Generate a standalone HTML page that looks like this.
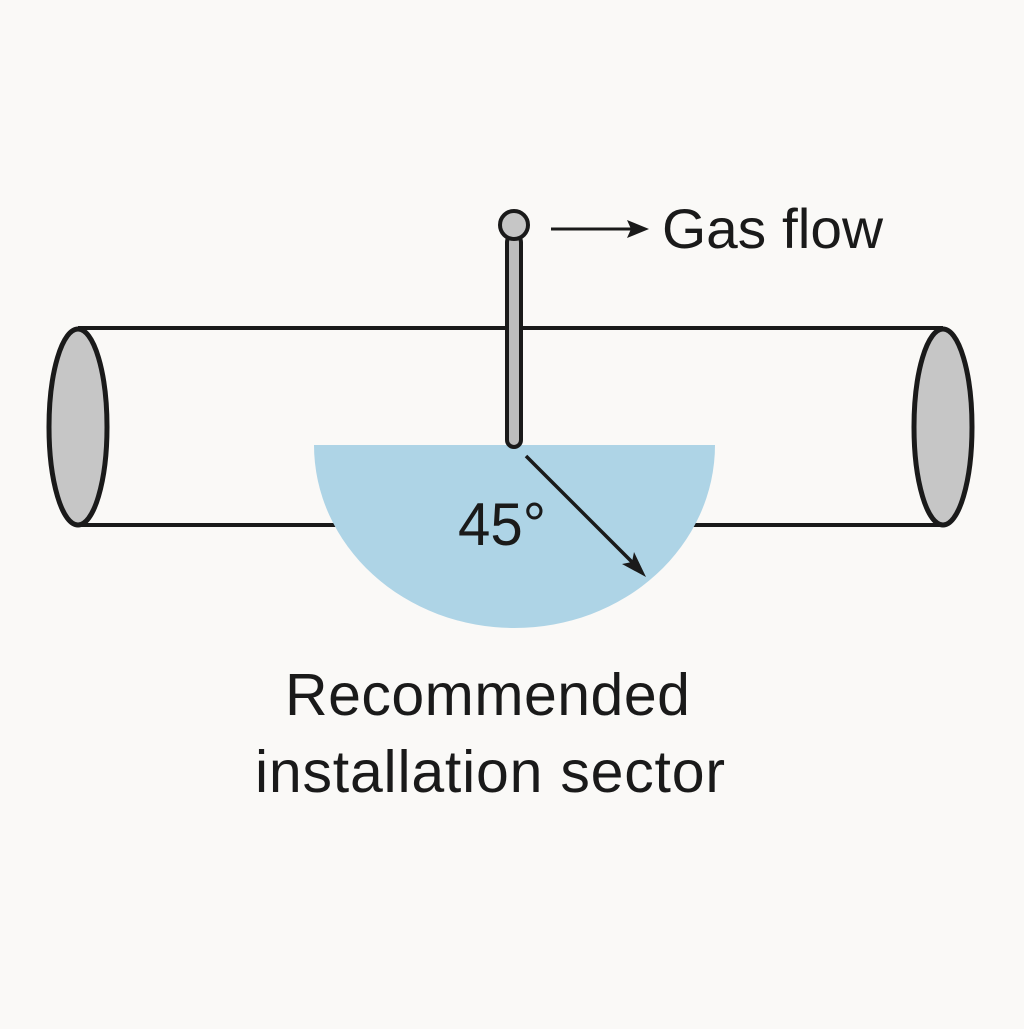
<!DOCTYPE html>
<html><head><meta charset="utf-8"><style>html,body{margin:0;padding:0;background:#faf9f7;}</style></head>
<body>
<svg width="1024" height="1024" viewBox="0 0 1024 1024" xmlns="http://www.w3.org/2000/svg">
<rect width="1024" height="1024" fill="#faf9f7"/>
<line x1="78" y1="328" x2="943" y2="328" stroke="#1a1a1a" stroke-width="4"/>
<line x1="78" y1="525" x2="943" y2="525" stroke="#1a1a1a" stroke-width="4"/>
<ellipse cx="78" cy="427" rx="29" ry="98" fill="#c6c6c6" stroke="#1a1a1a" stroke-width="5"/>
<ellipse cx="943" cy="427" rx="29" ry="98" fill="#c6c6c6" stroke="#1a1a1a" stroke-width="5"/>
<path d="M314 445 L715 445 A200.5 183 0 0 1 314 445 Z" fill="#aed4e6"/>
<rect x="507" y="235" width="14" height="212" rx="7" fill="#bdbdbd" stroke="#1a1a1a" stroke-width="4"/>
<circle cx="514" cy="225" r="14" fill="#c6c6c6" stroke="#1a1a1a" stroke-width="4"/>
<line x1="551" y1="229" x2="635" y2="229" stroke="#1a1a1a" stroke-width="3"/>
<path d="M649 229 L627 220 L631 229 L627 238 Z" fill="#1a1a1a"/>
<text x="662" y="248" font-family="Liberation Sans, sans-serif" font-size="56" fill="#1a1a1a" textLength="221" lengthAdjust="spacingAndGlyphs">Gas flow</text>
<line x1="526" y1="456" x2="636" y2="566" stroke="#1a1a1a" stroke-width="3.5"/>
<path d="M646 577 L622 564 L632 562 L634 552 Z" fill="#1a1a1a"/>
<text x="458" y="545" font-family="Liberation Sans, sans-serif" font-size="60" fill="#1a1a1a" textLength="88" lengthAdjust="spacingAndGlyphs">45°</text>
<text x="285" y="715" font-family="Liberation Sans, sans-serif" font-size="59" fill="#1a1a1a" textLength="405">Recommended</text>
<text x="255" y="792" font-family="Liberation Sans, sans-serif" font-size="59" fill="#1a1a1a" textLength="470">installation sector</text>
</svg>
</body></html>
